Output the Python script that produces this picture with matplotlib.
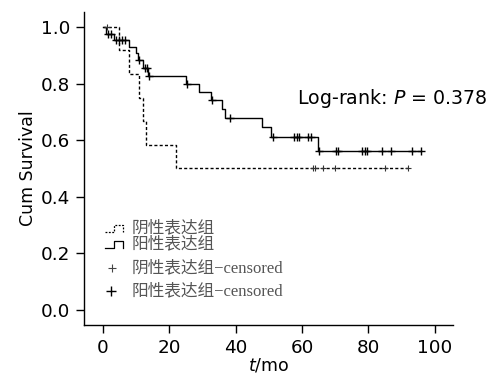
import numpy as np
import matplotlib
matplotlib.use("Agg")
import matplotlib.pyplot as plt

#### Datos

# 阴性表达组 (línea discontinua): tiempos de evento y supervivencia tras el evento
neg_t = [0, 4.8, 7.8, 10.8, 12.0, 13.0, 22.0]
neg_s = [1.0, 0.917, 0.833, 0.750, 0.667, 0.583, 0.500]
neg_cens = [1.3, 63.3, 64.0, 66.3, 70.0, 85.0, 92.0]

# 阳性表达组 (línea continua)
pos_t = [0, 1.0, 3.3, 7.9, 9.9, 10.6, 12.0, 13.7, 24.9, 29.0, 32.5, 36.0, 36.9, 47.8, 50.8, 64.9]
pos_s = [1.0, 0.977, 0.954, 0.931, 0.908, 0.882, 0.856, 0.828, 0.800, 0.771, 0.742,
         0.712, 0.678, 0.645, 0.612, 0.563]
pos_cens = [1.5, 2.4, 4.0, 4.9, 5.8, 6.7, 10.8, 12.6, 13.3, 14.0, 25.2, 33.0, 38.2,
            51.2, 57.6, 58.4, 59.1, 61.9, 62.7, 65.2, 70.2, 70.9, 78.1, 78.9, 79.7,
            84.2, 86.9, 93.0, 96.0]

legend_labels = ["阴性表达组", "阳性表达组", "阴性表达组−censored", "阳性表达组−censored"]
p_text = "Log-rank: $P$ = 0.378"


def km_at(ts, ss, t):
    i = np.searchsorted(ts, t, side="right") - 1
    return np.array(ss)[i]


fig = plt.figure(figsize=(4.89, 3.80), dpi=100)
ax = fig.add_axes([84/489, 1-325/380, 369/489, 313/380])

# curvas escalonadas
t_end_neg = max(neg_cens)
t_end_pos = max(pos_cens)
ax.step(neg_t + [t_end_neg], neg_s + [neg_s[-1]], where="post", color="black",
        lw=1.0, ls=(0, (2.2, 1.6)))
ax.step(pos_t + [t_end_pos], pos_s + [pos_s[-1]], where="post", color="black", lw=1.0)

# marcas de censura
ax.plot(neg_cens, km_at(neg_t, neg_s, neg_cens), ls="none", marker="+", ms=5,
        mew=0.8, color="#333333")
ax.plot(pos_cens, km_at(pos_t, pos_s, pos_cens), ls="none", marker="+", ms=5.5,
        mew=1.0, color="black")

ax.set_xlim(-5.7, 105.5)
ax.set_ylim(-0.053, 1.053)
ax.set_xticks([0, 20, 40, 60, 80, 100])
ax.set_yticks([0.0, 0.2, 0.4, 0.6, 0.8, 1.0])
ax.set_yticklabels(["0.0", "0.2", "0.4", "0.6", "0.8", "1.0"])
ax.tick_params(labelsize=13.2, length=5.5, width=1, pad=4.5)
for s in ["top", "right"]:
    ax.spines[s].set_visible(False)
for s in ["left", "bottom"]:
    ax.spines[s].set_linewidth(1.0)

ax.set_xlabel("$t$/mo", fontsize=12.5, labelpad=0)
ax.set_ylabel("Cum Survival", fontsize=12.5, labelpad=3)

ax.text(58.4, 0.749, p_text, fontsize=13.7, va="center", ha="left")

#### Leyenda dibujada a mano (ejes en fracción)
W, H = 369.0, 313.0
fam = ["Liberation Serif", "Noto Sans CJK SC"]
rows_y = [(325-228)/H, (325-244)/H, (325-268)/H, (325-291)/H]
tx = (132-84)/W

x0, x1, x2 = (105-84)/W, (114-84)/W, (123-84)/W
h = 7/H
for k, ls in enumerate([(0, (1.5, 1.2)), "-"]):
    yb = rows_y[k] - h/2
    ax.plot([x0, x1, x1, x2, x2], [yb, yb, yb+h, yb+h, yb], transform=ax.transAxes,
            color="black", lw=0.9, ls=ls, clip_on=False)
ax.plot([(112-84)/W], [rows_y[2]], transform=ax.transAxes, marker="+", ms=6,
        mew=0.8, color="#444444", ls="none", clip_on=False)
ax.plot([(111-84)/W], [rows_y[3]], transform=ax.transAxes, marker="+", ms=7,
        mew=1.0, color="black", ls="none", clip_on=False)

for k, lab in enumerate(legend_labels):
    ax.text(tx, rows_y[k], lab, transform=ax.transAxes, family=fam, fontsize=12,
            color="#555555", va="center", ha="left")

fig.savefig("out.png", dpi=100)
